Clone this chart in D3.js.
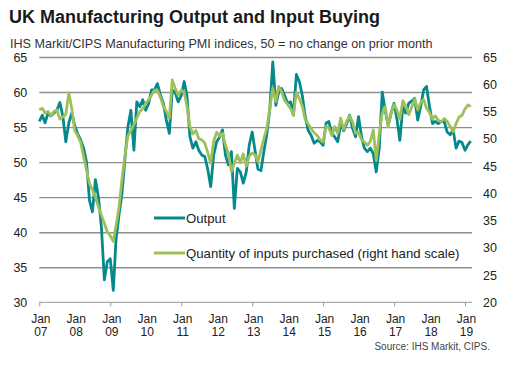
<!DOCTYPE html>
<html>
<head>
    <meta charset="utf-8">
    <style>
        body { margin: 0; background: #fff; }
        svg { font-family: Arial, 'Liberation Sans', sans-serif; }
        .grid .tick line { stroke: #8e8e8e; stroke-width: 1.4px; }
        .grid .domain { display: none; }
        .yl .domain, .yr .domain, .x .domain { display: none; }
        .yl .tick text, .yr .tick text { font-size: 12.5px; fill: #222; }
        .x .tick text { font-size: 12px; fill: #222; }
        .x .tick line { stroke: #999; }
    </style>
</head>
<body>
<svg width="513" height="375"></svg>

<script src="https://d3js.org/d3.v7.min.js"></script>
<script>

    // monthly values, Jan 2007 - Mar 2019
    let startMonth = new Date(2007, 0, 1)

    let output = [
        55.8, 56.7, 55.6, 57.0, 56.6, 57.0, 57.4, 58.5, 56.5, 52.9, 55.6, 57.0,   // 2007
        55.2, 54.0, 53.2, 52.0, 50.0, 44.5, 42.9, 47.5, 45.0, 40.8, 33.2, 35.8,   // 2008
        36.2, 31.7, 39.0, 42.5, 45.5, 50.5, 55.0, 57.4, 51.7, 58.6, 57.9, 58.9,   // 2009
        57.4, 58.4, 60.3, 60.3, 61.2, 59.6, 58.4, 56.0, 54.1, 60.3, 59.9, 58.6,   // 2010
        59.5, 61.5, 59.5, 53.6, 52.0, 52.9, 51.7, 51.0, 50.8, 49.0, 46.5, 51.0,   // 2011
        52.9, 53.6, 54.6, 51.0, 49.6, 51.5, 43.4, 49.1, 48.6, 47.0, 48.6, 52.4,   // 2012
        54.3, 51.5, 49.0, 48.8, 51.5, 54.0, 57.5, 64.3, 58.1, 60.0, 60.5, 59.5,   // 2013
        58.4, 58.6, 56.7, 62.5, 61.5, 59.5, 56.5, 54.5, 53.8, 52.7, 53.1, 52.9,   // 2014
        52.4, 55.6, 55.8, 54.1, 53.6, 52.9, 55.5, 54.5, 55.5, 56.7, 54.8, 53.6,   // 2015
        56.5, 53.6, 52.0, 51.5, 52.0, 51.2, 48.6, 52.0, 60.0, 57.4, 55.3, 57.0,   // 2016
        58.4, 56.0, 53.1, 57.9, 57.0, 58.4, 58.7, 59.1, 56.0, 57.9, 60.3, 60.8,   // 2017
        57.9, 55.5, 55.8, 55.5, 55.8, 55.8, 54.3, 53.9, 54.6, 52.0, 53.0, 52.8,   // 2018
        51.7, 52.5, 53.0                                                          // 2019
    ]

    let inputs = [
        55.3, 55.6, 54.7, 55.0, 54.3, 55.0, 55.3, 53.6, 54.0, 54.5, 58.4, 55.6,   // 2007
        51.5, 50.5, 49.4, 46.8, 44.2, 41.8, 40.6, 39.3, 37.5, 36.0, 34.5, 32.9,   // 2008
        32.2, 31.2, 34.0, 37.5, 42.5, 47.0, 50.5, 51.5, 52.6, 53.8, 55.0, 55.5,   // 2009
        56.5, 57.2, 58.0, 58.9, 58.9, 57.6, 56.0, 55.0, 53.8, 60.8, 59.2, 58.0,   // 2010
        58.9, 58.5, 56.0, 52.2, 50.9, 51.5, 50.0, 49.8, 49.2, 47.5, 45.5, 49.5,   // 2011
        51.2, 50.5, 51.0, 48.8, 47.3, 44.0, 45.5, 47.0, 45.6, 47.2, 45.0, 46.8,   // 2012
        47.4, 47.0, 45.8, 47.9, 50.0, 52.0, 55.5, 59.3, 56.8, 59.6, 58.6, 57.0,   // 2013
        56.3, 55.5, 54.3, 58.5, 57.4, 56.0, 53.5, 52.7, 51.8, 51.1, 50.6, 49.8,   // 2014
        49.4, 52.3, 52.0, 50.6, 52.2, 51.0, 53.8, 51.7, 53.2, 54.2, 53.0, 51.0,   // 2015
        51.2, 49.8, 49.4, 48.8, 49.5, 51.6, 46.0, 51.0, 54.7, 55.9, 52.2, 54.7,   // 2016
        56.3, 55.2, 53.6, 57.0, 56.0, 54.4, 55.8, 57.3, 55.3, 56.6, 57.2, 55.6,   // 2017
        54.8, 53.6, 54.2, 53.4, 53.1, 53.7, 53.2, 52.3, 51.3, 52.8, 54.0, 54.3,   // 2018
        55.5, 56.2, 55.9                                                          // 2019
    ]

    let years = [2007, 2008, 2009, 2010, 2011, 2012, 2013, 2014, 2015, 2016, 2017, 2018, 2019]
    let leftTicks = [30, 35, 40, 45, 50, 55, 60, 65]
    let rightTicks = [20, 25, 30, 35, 40, 45, 50, 55, 60, 65]

    let plotLeft = 39.3
    let plotRight = 472
    let plotTop = 57
    let plotBottom = 302.3

    let svg = d3.select("svg")

    let x = d3.scaleTime()
        .domain([new Date(2007, 0, 1), new Date(2019, 0, 1)])
        .range([plotLeft, 465])

    let yLeft = d3.scaleLinear()
        .domain([30, 65])
        .range([plotBottom, plotTop])

    let yRight = d3.scaleLinear()
        .domain([20, 65])
        .range([plotBottom, plotTop])

    let outData = output.map((v, i) => ({ date: d3.timeMonth.offset(startMonth, i), value: v }))
    let inData = inputs.map((v, i) => ({ date: d3.timeMonth.offset(startMonth, i), value: v }))

    // titles
    svg.append("text").text("UK Manufacturing Output and Input Buying")
        .attr("x", 9)
        .attr("y", 22.5)
        .attr("font-size", "18px")
        .attr("font-weight", "bold")
        .attr("fill", "#1a1a1a")

    svg.append("text").text("IHS Markit/CIPS Manufacturing PMI indices, 50 = no change on prior month")
        .attr("x", 10)
        .attr("y", 47.5)
        .attr("font-size", "12.6px")
        .attr("fill", "#333")

    // gridlines
    svg.append("g")
        .attr("class", "grid")
        .attr("transform", `translate(${plotLeft},0)`)
        .call(d3.axisLeft(yLeft)
            .tickValues(leftTicks.filter(d => d > 30))
            .tickSize(-(plotRight - plotLeft))
            .tickFormat(""))

    // bottom axis line
    svg.append("line")
        .attr("x1", plotLeft)
        .attr("x2", plotRight)
        .attr("y1", plotBottom)
        .attr("y2", plotBottom)
        .style("stroke", "#999")
        .style("stroke-width", 1)

    // left labels
    svg.append("g")
        .attr("class", "yl")
        .attr("transform", `translate(${plotLeft},0)`)
        .call(d3.axisLeft(yLeft).tickValues(leftTicks).tickSize(0).tickPadding(12))

    // right labels
    svg.append("g")
        .attr("class", "yr")
        .attr("transform", `translate(${plotRight},0)`)
        .call(d3.axisRight(yRight).tickValues(rightTicks).tickSize(0).tickPadding(11))

    // x axis
    let xAxis = svg.append("g")
        .attr("class", "x")
        .attr("transform", `translate(0,${plotBottom})`)
        .call(d3.axisBottom(x)
            .tickValues(years.map(y => new Date(y, 0, 1)))
            .tickSize(4)
            .tickPadding(8)
            .tickFormat(""))

    xAxis.selectAll(".tick line")
        .attr("y2", (d, i) => i % 2 == 0 ? 4 : 0)

    xAxis.selectAll(".tick text").each(function (d) {
        let t = d3.select(this)
        t.append("tspan").attr("x", 1).attr("dy", "0.71em").text("Jan")
        t.append("tspan").attr("x", 1).attr("dy", "1.1em").text(d3.timeFormat("%y")(d))
    })

    // lines
    let outLine = d3.line()
        .x(d => x(d.date))
        .y(d => yLeft(d.value))

    let inLine = d3.line()
        .x(d => x(d.date))
        .y(d => yRight(d.value))

    svg.append("path")
        .attr("d", outLine(outData))
        .style("fill", "none")
        .style("stroke", "#06898a")
        .style("stroke-width", 2.8)
        .style("stroke-linejoin", "round")

    svg.append("path")
        .attr("d", inLine(inData))
        .style("fill", "none")
        .style("stroke", "#9dc05b")
        .style("stroke-width", 2.8)
        .style("stroke-linejoin", "round")

    // legend
    let legend = [
        { label: "Output", color: "#06898a", y: 218 },
        { label: "Quantity of inputs purchased (right hand scale)", color: "#9dc05b", y: 253 }
    ]

    legend.forEach(function (l) {
        svg.append("line")
            .attr("x1", 154)
            .attr("x2", 185)
            .attr("y1", l.y)
            .attr("y2", l.y)
            .style("stroke", l.color)
            .style("stroke-width", 3)
        svg.append("text").text(l.label)
            .attr("x", 186)
            .attr("y", l.y + 4.5)
            .attr("font-size", "13.2px")
            .attr("fill", "#222")
    })

    svg.append("text").text("Source: IHS Markit, CIPS.")
        .attr("x", 490)
        .attr("y", 349.5)
        .attr("text-anchor", "end")
        .attr("font-size", "10px")
        .attr("fill", "#444")

</script>
</body>
</html>
